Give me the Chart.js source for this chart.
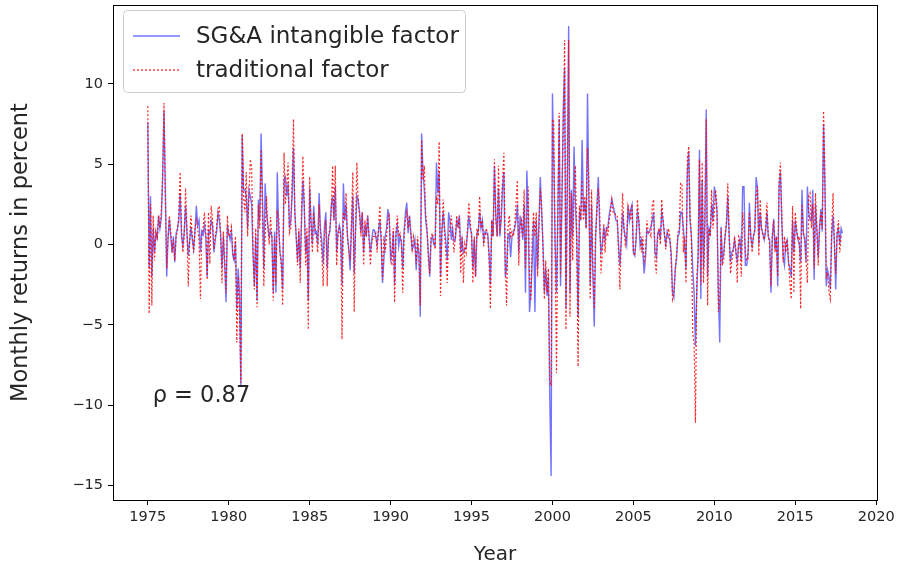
<!DOCTYPE html>
<html>
<head>
<meta charset="utf-8">
<script src="https://cdn.jsdelivr.net/npm/chart.js@4.4.1/dist/chart.umd.min.js"></script>
<style>
  html, body { margin: 0; padding: 0; background: #fff; }
  #wrap { width: 906px; height: 575px; }
</style>
</head>
<body>
<div id="wrap"><canvas id="chart" width="906" height="575"></canvas></div>
<script>
// monthly returns, Jan 1975 .. Dec 2017, one row per year
const firstYear = 1975;

const sgaFactor = [
  7.6, -1.5, 3.0, -2.0, 1.0, -0.5, 0.7, 0.4, 1.8, 1.0, 1.6, 4.0,      // 1975
  8.3, 3.5, -2.0, 0.3, 1.6, 0.5, -0.5, 0.5, -1.1, 0.7, 1.0, 1.5,
  3.2, 0.5, -0.1, 0.8, 2.4, 0.8, -0.7, 0.2, 1.1, 0.3, -0.3, 0.8,
  2.4, 1.2, 1.5, -0.5, 0.8, 0.6, 1.2, 0.5, -2.0, 0.8, 0.7, 1.5,
  1.2, -0.5, 0.3, 0.8, 2.0, 1.5, 0.7, -1.5, 0.5, -1.2, -3.6, 1.2,
  0.7, 0.3, 0.8, -0.7, -1.0, 0.2, -4.0, -1.5, -3.0, -8.8, 6.8, 3.4,   // 1980
  3.4, 3.0, 1.0, 3.4, 3.0, 2.5, -0.5, -2.6, 0.5, -3.5, 2.8, 1.5,
  6.9, 3.0, -1.5, 3.8, 2.0, 1.2, 0.5, 0.8, 0.5, -3.0, 0.8, -3.0,
  4.5, 1.0, -0.5, -1.0, -2.8, 4.0, 4.2, 3.0, 3.8, 1.0, 1.5, 3.0,
  6.0, 2.0, 0.5, -1.0, 0.8, -1.5, 1.5, 4.0, 2.4, -0.5, 0.5, -3.5,
  3.5, 1.5, 0.0, 2.4, 0.7, 0.8, 0.0, 3.2, 1.0, 0.2, -1.2, 1.2,      // 1985
  2.0, -1.5, 0.5, 0.8, 2.4, 3.0, 1.5, 3.6, -0.5, 0.8, 1.2, 0.8,
  -2.5, 3.8, 1.5, 2.5, 0.5, -0.3, -1.6, 1.0, 3.0, -1.8, 0.8, 3.0,
  2.8, 2.0, 0.8, 2.0, -0.5, 1.2, 0.5, 1.8, 0.5, -0.5, 0.3, 0.9,
  0.9, 0.5, 0.0, 0.8, 1.5, 0.3, -2.4, -1.0, 0.5, 1.0, 2.2, 1.5,
  -0.9, -0.5, 0.8, -2.5, 0.7, 1.2, -0.1, 0.5, 0.2, -1.5, 0.8, 2.0,  // 1990
  2.6, 0.7, 1.8, 0.8, -0.3, -0.1, 0.3, -1.6, 0.0, -0.5, -4.5, 6.9,
  4.5, 3.4, 1.5, 0.8, -0.5, -2.0, 0.3, 0.5, 0.0, -0.1, 5.1, 3.2,
  4.5, -2.0, 0.8, 2.0, 1.0, 0.2, -1.0, 2.0, 1.5, 0.3, 1.0, 0.2,
  0.3, 1.5, 1.2, 1.8, -0.5, 0.3, -0.5, -0.3, -0.2, 0.7, 1.8, 1.0,
  0.7, -1.5, 0.3, -2.0, 0.7, 0.8, 2.0, 1.0, 1.5, 0.2, 0.8, 0.7,     // 1995
  0.7, -0.5, -2.5, 1.5, 0.5, 4.9, 1.8, 0.5, 3.5, 0.5, 1.5, 3.5,
  4.5, -2.0, -1.5, 0.5, 0.7, -0.8, 0.5, 0.7, 1.0, 1.5, 2.5, -0.5,
  1.8, 1.2, 0.3, 2.5, -3.0, 4.6, 2.0, -4.2, -3.0, -1.0, 1.5, -4.2,
  1.5, -1.5, 1.5, 4.2, 2.0, 0.0, -3.0, -1.5, -3.2, -2.0, -9.5, -14.4,
  9.4, 5.0, 0.0, -3.0, 2.0, 7.8, -2.6, 2.5, 8.4, 11.0, -4.0, 4.0,   // 2000
  13.6, -3.0, 3.4, 0.5, 6.1, 2.5, 0.5, -4.5, 2.0, 1.5, 6.5, 2.0,
  2.5, 1.0, 9.4, 2.8, -2.5, 2.5, -2.0, -5.1, 0.5, 2.5, 4.2, 1.0,
  -0.5, 0.0, 1.1, 0.3, 1.0, 1.0, 1.8, 2.3, 2.8, 2.4, 2.0, 1.5,
  1.5, 0.0, -1.3, 0.2, 2.0, 1.0, 0.5, 0.0, 2.4, 1.5, 2.2, 2.5,
  -0.5, -0.7, 0.3, 2.0, 1.5, -0.1, 0.3, -0.5, -1.8, -0.8, 0.9, 0.7, // 2005
  0.8, 1.1, 1.5, 2.0, -0.5, -0.8, 0.7, 0.9, 0.3, 2.0, 1.5, 0.6,
  0.0, 0.8, 0.5, 0.3, -0.5, -3.0, -3.3, -1.5, -0.9, 0.5, 0.7, 2.0,
  2.0, 1.1, -0.1, -1.5, 4.5, 5.8, 1.5, 0.5, -1.5, -3.0, -6.3, -3.0,
  -0.5, 5.9, -3.4, 4.0, -1.5, 1.5, 8.4, -2.0, 1.0, 0.7, 2.5, 1.5,
  3.6, 3.0, 2.0, -3.0, -6.1, 1.1, -1.0, -0.5, 0.5, 1.2, 3.0, 0.5,   // 2010
  -1.1, -0.5, -0.3, 0.3, -0.5, -1.0, -0.1, 0.3, -1.0, 3.6, 3.6, -1.3,
  -1.3, -0.5, 2.6, 0.5, -0.1, 0.5, 0.8, 4.2, 3.5, 0.0, 2.0, 1.0,
  0.7, 0.3, 0.8, 2.0, 0.5, 0.3, -3.0, 0.5, 1.6, -0.3, 0.5, -2.6,
  3.6, 4.5, 1.5, -0.8, -1.3, 0.1, 0.3, -1.1, -1.5, -2.0, 1.5, -0.5,
  1.5, 0.8, 0.3, 0.0, -1.1, 3.4, 0.7, 0.3, -1.1, 3.6, 2.0, 1.5,     // 2015
  1.5, 3.4, -2.2, 2.5, 1.0, -0.8, 1.0, 2.2, 0.8, 7.5, 3.5, -2.6,
  -1.6, -2.0, -2.8, 0.5, 1.8, 0.2, -2.8, 0.7, 1.0, 0.0, 1.0, 0.7
];

const tradFactor = [
  8.6, -4.3, 2.5, -3.8, 1.8, -1.0, 0.8, 0.3, 1.8, 1.0, 2.0, 4.5,    // 1975
  8.8, 3.0, -1.5, 0.5, 1.8, 0.8, -0.5, 0.3, -1.0, 0.5, 0.8, 2.0,
  4.5, 1.0, -0.5, 0.5, 3.5, 1.0, -2.6, 0.2, 1.8, 0.5, -0.5, 1.0,
  1.5, 1.0, 0.2, -3.4, 0.5, 1.0, 2.0, 0.8, -2.2, 2.0, -1.2, 2.4,
  1.5, -0.3, 0.5, 1.0, 2.0, 2.4, 0.5, -2.4, 0.8, -1.0, -3.0, 1.8,
  0.5, 0.7, 1.1, -0.5, -1.0, 0.5, -6.1, -2.0, -4.5, -8.6, 6.9, 3.0,  // 1980
  2.0, 4.5, 0.5, 3.0, 5.3, 4.8, -0.5, -2.8, 1.0, -3.9, 2.5, 1.0,
  5.9, 2.0, -2.6, 0.5, 3.0, 1.0, 0.0, 1.7, 0.5, -3.5, 0.5, -2.5,
  2.0, 1.7, -0.5, -1.5, -3.8, 5.7, 2.5, 3.5, 5.1, 0.7, 1.0, 4.0,
  7.8, 2.0, 0.5, -1.3, 1.0, -2.4, 2.5, 5.5, 2.5, -1.3, 1.0, -5.3,
  4.2, 1.0, -0.5, 2.0, 1.0, 0.5, -0.5, 2.5, 0.5, -0.5, -2.6, 0.5,   // 1985
  1.5, -2.6, 0.5, 1.0, 2.0, 4.9, 1.5, 4.9, -1.3, 0.5, 1.0, 0.5,
  -5.9, 2.0, 1.5, 3.2, 0.5, -0.3, -1.0, 1.5, 4.5, -4.2, 1.0, 5.1,
  2.5, 1.8, 0.5, 2.0, -1.3, 1.5, 0.5, 1.8, 0.5, -1.3, 0.0, 0.5,
  0.5, 0.7, -0.5, 1.0, 2.4, 0.5, -2.2, 0.5, -0.5, 0.5, 1.5, 1.8,
  -0.5, -1.3, 1.0, -3.6, 0.8, 1.8, 0.5, 0.7, 0.0, -3.0, 0.5, 1.5,   // 1990
  2.0, 1.0, 1.8, 0.5, -0.3, 0.5, 0.0, -1.2, 0.5, -0.5, -3.8, 6.5,
  4.0, 4.9, 2.0, 1.1, -1.0, -1.8, 0.5, 0.7, 0.3, -0.3, 3.0, 2.5,
  6.4, -3.2, 0.5, 2.8, 0.7, -0.5, -2.4, 0.5, 1.0, 1.8, 0.5, -0.5,
  0.5, 1.8, 1.0, 1.8, -1.8, 0.5, -2.4, 0.0, -0.5, 1.0, 2.6, 1.5,
  0.5, -2.4, 0.5, -2.0, 1.0, 0.5, 3.0, 1.0, 1.5, -0.1, 0.5, 1.0,    // 1995
  0.5, -1.0, -4.0, 1.5, 0.5, 5.3, 1.5, 0.5, 4.9, 0.7, 2.0, 4.0,
  5.7, -1.0, -3.8, 1.0, 1.8, 0.5, 0.8, 0.5, 1.2, 2.6, 4.0, -1.3,
  1.1, 1.5, 0.5, 3.4, -1.5, 1.0, 3.6, -2.0, -3.5, 0.5, 2.0, 0.5,
  2.0, -2.0, 1.0, 3.5, 2.4, -0.5, -3.4, -1.0, -3.0, -1.5, -8.4, -8.8,
  7.8, 7.6, -1.0, -8.0, 2.0, 8.2, -2.0, 3.0, 7.0, 12.7, -5.3, 3.0,  // 2000
  12.7, -4.5, 3.2, -1.0, 3.0, 4.9, 0.5, -7.6, 2.4, 1.5, 4.0, 1.5,
  3.0, 1.0, 6.0, 3.8, -3.4, 3.4, -1.5, -4.0, 0.7, 2.0, 3.5, 2.2,
  -1.8, -0.5, 1.3, -0.5, 1.1, 0.5, 1.5, 2.0, 2.8, 2.0, 2.0, 1.8,
  1.8, -0.5, -2.8, 0.5, 3.2, 1.0, 0.0, 0.5, 2.4, 2.0, 1.5, 2.5,
  -0.5, -0.7, 0.5, 2.8, 1.5, 0.5, -0.5, 0.5, -1.0, -0.5, 1.5, 0.8,  // 2005
  0.7, 0.5, 2.4, 2.8, -1.0, -1.8, 0.5, 1.0, 0.0, 2.8, 1.5, 0.7,
  -0.3, 0.5, 1.0, 0.5, -0.9, -3.4, -3.0, -1.8, -0.5, 0.7, 1.0, 3.8,
  3.8, -0.5, 0.5, -2.4, 5.3, 6.1, 1.8, 0.5, -5.5, -6.1, -11.1, -2.0,
  -1.0, 5.3, -2.5, 5.1, -2.4, 1.0, 7.8, -3.8, 1.0, 0.5, 3.4, 1.0,
  2.0, 3.4, 2.4, -4.2, -3.5, 1.0, -1.3, -0.9, 0.7, 1.5, 3.8, 0.7,   // 2010
  -1.8, -1.0, -0.5, 0.5, -0.3, -2.4, 0.5, 0.3, -2.0, 2.0, 1.0, -0.5,
  -1.0, -0.9, 2.0, 0.7, -0.5, 0.5, 1.0, 3.0, 3.6, -0.7, 2.8, 1.0,
  0.5, 0.3, 1.0, 2.6, 0.5, 0.0, -2.6, 0.5, 1.5, -0.5, 0.5, -2.0,
  4.0, 5.1, 2.0, -1.1, 0.5, -0.5, 0.3, -1.0, -2.4, -3.4, 2.4, -3.0,
  2.0, 1.0, 0.3, 0.5, -4.0, 2.5, 0.7, 0.5, -1.0, -2.4, 3.0, 3.2,    // 2015
  1.0, 2.5, -1.5, 3.2, 1.0, -1.3, 1.0, 2.0, 1.0, 8.3, 4.5, -2.0,
  -1.8, -3.0, -3.4, 1.0, 3.2, 0.0, -1.8, 0.7, 1.5, -0.5, 0.5, 0.5
];

const xTicks = [1975, 1980, 1985, 1990, 1995, 2000, 2005, 2010, 2015, 2020];
const yTicks = [-15, -10, -5, 0, 5, 10];
const seriesNames = ['SG&A intangible factor', 'traditional factor'];
const corrText = 'ρ = 0.87';

const FONT = 'DejaVu Sans';
const TXT = '#262626';
const BLUE = 'rgba(0,0,255,0.55)';
const RED = 'rgba(255,0,0,0.85)';

const toPoints = arr => arr.map((v, i) => ({ x: firstYear + i / 12, y: v }));
const minusFmt = v => (v < 0 ? '\u2212' + Math.abs(v) : String(v));

// frame on all four sides, legend box and the rho note
const extras = {
  id: 'extras',
  afterDatasetsDraw(chart) {
    const { ctx, chartArea: a, scales } = chart;
    ctx.save();
    ctx.strokeStyle = '#000';
    ctx.lineWidth = 1;
    ctx.strokeRect(a.left + 0.5, a.top + 0.5, a.right - a.left, a.bottom - a.top);

    // rho label
    ctx.fillStyle = TXT;
    ctx.font = `22.5px "${FONT}"`;
    ctx.textBaseline = 'middle';
    ctx.textAlign = 'left';
    ctx.fillText(corrText, scales.x.getPixelForValue(1975.3), scales.y.getPixelForValue(-9.45));

    // legend
    const bx = 123, by = 10, bw = 342, bh = 82, r = 4;
    ctx.beginPath();
    ctx.roundRect(bx + 0.5, by + 0.5, bw, bh, r);
    ctx.fillStyle = 'rgba(255,255,255,0.8)';
    ctx.fill();
    ctx.strokeStyle = '#cccccc';
    ctx.stroke();

    const rows = [
      { y: 36, color: BLUE, dash: [] },
      { y: 70, color: RED, dash: [2, 2] }
    ];
    rows.forEach((row, i) => {
      ctx.beginPath();
      ctx.setLineDash(row.dash);
      ctx.strokeStyle = row.color;
      ctx.lineWidth = 1.3;
      ctx.moveTo(133, row.y);
      ctx.lineTo(180, row.y);
      ctx.stroke();
      ctx.setLineDash([]);
      ctx.fillStyle = TXT;
      ctx.font = `23px "${FONT}"`;
      ctx.fillText(seriesNames[i], 196, row.y + 1);
    });
    ctx.restore();
  }
};

new Chart(document.getElementById('chart'), {
  type: 'line',
  data: {
    datasets: [
      { label: seriesNames[1], data: toPoints(tradFactor), borderColor: RED, borderWidth: 1.2,
        borderDash: [2, 2], pointRadius: 0, tension: 0, order: 0 },
      { label: seriesNames[0], data: toPoints(sgaFactor), borderColor: BLUE, borderWidth: 1.4,
        pointRadius: 0, tension: 0, order: 1 }
    ]
  },
  options: {
    responsive: false,
    animation: false,
    events: [],
    layout: { padding: { left: 0, right: 29, top: 5, bottom: 0 } },
    plugins: { legend: { display: false }, tooltip: { enabled: false } },
    scales: {
      x: {
        type: 'linear',
        min: 1972.85,
        max: 2020.05,
        afterBuildTicks: s => { s.ticks = xTicks.map(v => ({ value: v })); },
        afterFit: s => { s.height = 75; s.paddingLeft = 0; s.paddingRight = 0; },
        grid: { drawOnChartArea: false, tickLength: 5, color: '#000' },
        border: { display: true, color: '#000' },
        ticks: { font: { family: FONT, size: 14.5 }, color: TXT, padding: 4, maxRotation: 0,
          callback: v => String(v) },
        title: { display: true, text: 'Year', font: { family: FONT, size: 20 }, color: TXT,
          padding: { top: 0, bottom: 8 } }
      },
      y: {
        min: -15.9,
        max: 14.9,
        afterBuildTicks: s => { s.ticks = yTicks.map(v => ({ value: v })); },
        afterFit: s => { s.width = 113; s.paddingTop = 0; s.paddingBottom = 0; },
        grid: { drawOnChartArea: false, tickLength: 5, color: '#000' },
        border: { display: true, color: '#000' },
        ticks: { font: { family: FONT, size: 14.5 }, color: TXT, padding: 5, callback: minusFmt },
        title: { display: true, text: 'Monthly returns in percent', font: { family: FONT, size: 22.5 },
          color: TXT, padding: { top: 8, bottom: 0 } }
      }
    }
  },
  plugins: [extras]
});
</script>
</body>
</html>
